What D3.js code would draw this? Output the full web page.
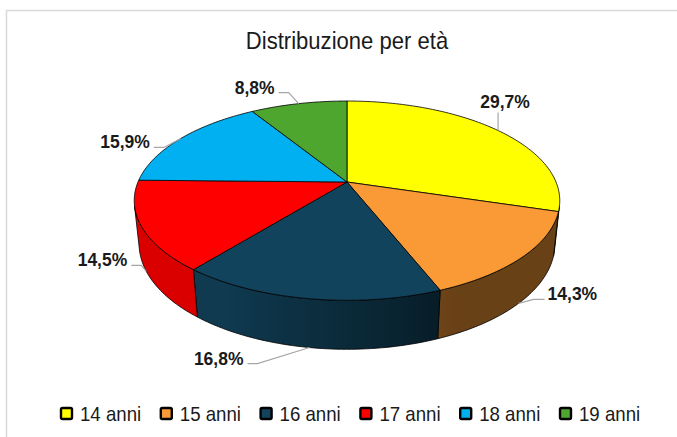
<!DOCTYPE html>
<html>
<head>
<meta charset="utf-8">
<script src="https://cdn.jsdelivr.net/npm/d3@7"></script>
<style>
   body { margin: 0; background: #ffffff; }
   text { font-family: "Liberation Sans", Arial, sans-serif; }
</style>
</head>
<body>
<div id="chart"></div>
<script>
//--------------------------------------------------------------
// DATA
//--------------------------------------------------------------
var categories = ["14 anni", "15 anni", "16 anni", "17 anni", "18 anni", "19 anni"];
var values = [29.7, 14.3, 16.8, 14.5, 15.9, 8.8];
var title = "Distribuzione per età";

// slice colours (top face)
var colors = ["#ffff00", "#f99a36", "#11435c", "#ff0000", "#00b0f0", "#4ea62e"];

// label placement relative to the leader anchor: [dx, dy, anchor]
var labelLayout = [
   [7, -23, "middle"],
   [29, -3, "start"],
   [-66, 17, "end"],
   [-19, -5, "end"],
   [-31, 10, "end"],
   [-24, -10, "end"]
];
//--------------------------------------------------------------


//--------------------------------------------------------------
// SIZE + 3D VIEW PARAMS
//--------------------------------------------------------------
var width = 677;
var height = 437;

var cx = 347;          // pie centre on screen
var cy = 182;
var F = 209;           // projected radius at centre depth
var rd = 0.211;        // radius / camera distance (perspective strength)
var sinP = 0.46;       // view elevation
var cosP = Math.sqrt(1 - sinP * sinP);
var depth = 0.235;     // pie thickness in radius units

// outer wall faces the camera between these angles
var visA = Math.acos(-rd / cosP);
var visB = 2 * Math.PI - visA;
//--------------------------------------------------------------

var fmt = d3.formatLocale({ decimal: ",", thousands: ".", grouping: [3], currency: ["", "€"] }).format(".1f");

// project a point on the pie (angle clockwise from 12 o'clock, z up, radius rad)
function project(theta, z, rad) {
   rad = rad === undefined ? 1 : rad;
   var X = rad * Math.sin(theta);
   var Y = -rad * Math.cos(theta);
   var v = Y * sinP - z * cosP;
   var w = 1 - rd * (Y * cosP + z * sinP);
   return [cx + F * X / w, cy + F * v / w];
}

function arcPoints(a, b, z) {
   var n = Math.max(2, Math.ceil((b - a) / 0.02));
   return d3.range(n + 1).map(i => project(a + (b - a) * i / n, z));
}

function shade(color, k) {
   var c = d3.rgb(color);
   return d3.rgb(c.r * k, c.g * k, c.b * k).formatHex();
}

// light from the left: walls on the right get darker
function wallLight(theta) {
   return Math.max(0.42, Math.min(0.86, 0.62 - 0.5 * Math.sin(theta)));
}

var line = d3.line();

var svg = d3.select("#chart").append("svg")
   .attr("width", width)
   .attr("height", height);

var defs = svg.append("defs");

// chart frame (only top and left edge show)
svg.append("rect")
   .attr("x", 6.5)
   .attr("y", 10.5)
   .attr("width", 720)
   .attr("height", 500)
   .attr("fill", "none")
   .attr("stroke", "#d9d9d9")
   .attr("stroke-width", 1.5);

// title, slightly condensed like the original narrow face
svg.append("g")
   .attr("transform", "translate(347, 49) scale(0.92, 1)")
   .append("text")
   .attr("text-anchor", "middle")
   .attr("font-size", 24)
   .attr("fill", "#1a1a1a")
   .text(title);

var arcs = d3.pie().sort(null).value(d => d)(values);

//--------------------------------------------------------------
// SIDE WALLS
//--------------------------------------------------------------
var sides = svg.append("g");
arcs.forEach(function(d, i) {
   var a = Math.max(d.startAngle, visA);
   var b = Math.min(d.endAngle, visB);
   if (b <= a) return;

   var top = arcPoints(a, b, 0);
   var bottom = arcPoints(a, b, -depth).reverse();

   // horizontal gradient following the wall
   var n = 12;
   var stops = d3.range(n + 1).map(j => {
      var t = a + (b - a) * j / n;
      return { x: project(t, 0)[0], k: wallLight(t) };
   });
   var xs = top.map(p => p[0]).concat(bottom.map(p => p[0]));
   var x0 = d3.min(xs), x1 = d3.max(xs);
   var grad = defs.append("linearGradient")
      .attr("id", "wall" + i)
      .attr("gradientUnits", "userSpaceOnUse")
      .attr("x1", x0).attr("x2", x1)
      .attr("y1", 0).attr("y2", 0);
   stops.sort((p, q) => p.x - q.x).forEach(s => {
      grad.append("stop")
         .attr("offset", x1 > x0 ? (s.x - x0) / (x1 - x0) : 0)
         .attr("stop-color", shade(colors[i], s.k));
   });

   sides.append("path")
      .attr("d", line(top.concat(bottom)) + "Z")
      .attr("fill", "url(#wall" + i + ")")
      .attr("stroke", "#000")
      .attr("stroke-width", 0.8)
      .attr("stroke-linejoin", "round");
});

//--------------------------------------------------------------
// TOP FACES
//--------------------------------------------------------------
var tops = svg.append("g");
arcs.forEach(function(d, i) {
   var pts = [project(0, 0, 0)].concat(arcPoints(d.startAngle, d.endAngle, 0));
   tops.append("path")
      .attr("d", line(pts) + "Z")
      .attr("fill", colors[i])
      .attr("stroke", "#000")
      .attr("stroke-width", 0.8)
      .attr("stroke-linejoin", "round");
});

//--------------------------------------------------------------
// DATA LABELS + LEADERS
//--------------------------------------------------------------
var labelsG = svg.append("g");
arcs.forEach(function(d, i) {
   var mid = (d.startAngle + d.endAngle) / 2;
   // leaders hit the bottom rim on the front walls, the top rim elsewhere
   var onWall = mid > visA && mid < visB;
   var anchor = project(mid, onWall ? -depth : 0);
   var lay = labelLayout[i];
   var tx = anchor[0] + lay[0];
   var ty = anchor[1] + lay[1];

   var pts;
   if (lay[2] === "middle") {
      pts = [[anchor[0], ty + 5], anchor];
   } else if (lay[2] === "start") {
      pts = [[tx - 3, ty - 1], [tx - 14, ty - 1], anchor];
   } else {
      pts = [[tx + 4, ty - 1], [tx + 14, ty - 1], anchor];
   }
   labelsG.append("path")
      .attr("d", line(pts))
      .attr("fill", "none")
      .attr("stroke", "#a6a6a6")
      .attr("stroke-width", 1.2);

   labelsG.append("text")
      .attr("x", tx)
      .attr("y", ty)
      .attr("text-anchor", lay[2])
      .attr("font-size", 17.5)
      .attr("font-weight", "bold")
      .attr("fill", "#1a1a1a")
      .text(fmt(d.data) + "%");
});

//--------------------------------------------------------------
// LEGEND
//--------------------------------------------------------------
var legend = svg.append("g")
   .attr("transform", "translate(61, 408)");
var legendX = d3.scalePoint().domain(categories).range([0, 499]);

categories.forEach(function(c, i) {
   var g = legend.append("g").attr("transform", `translate(${legendX(c)}, 0)`);
   g.append("rect")
      .attr("width", 11)
      .attr("height", 11)
      .attr("rx", 1.5)
      .attr("fill", colors[i])
      .attr("stroke", "#000")
      .attr("stroke-width", 2.4);
   g.append("g")
      .attr("transform", "translate(19, 13) scale(0.91, 1)")
      .append("text")
      .attr("font-size", 20.5)
      .attr("fill", "#1a1a1a")
      .text(c);
});
</script>
</body>
</html>
